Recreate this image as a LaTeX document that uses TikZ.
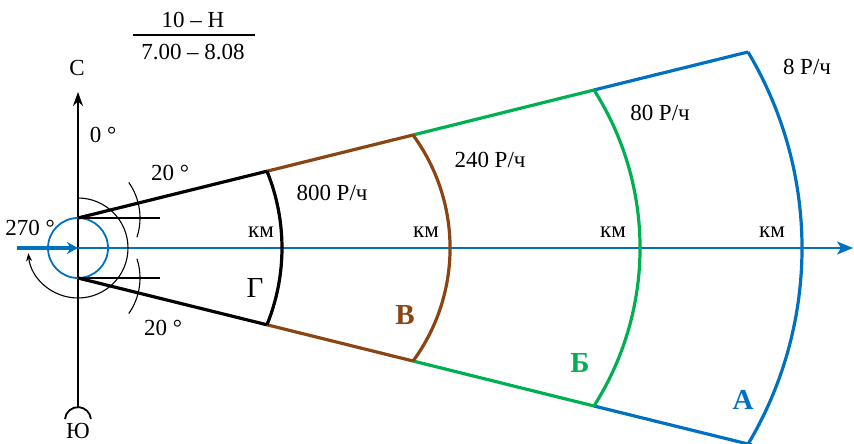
\documentclass[tikz,border=0pt]{standalone}
\usepackage{fontspec}
\setmainfont{Liberation Serif}
\usetikzlibrary{arrows.meta, calc}

\definecolor{zoneA}{RGB}{0,112,192}
\definecolor{zoneB}{RGB}{0,176,80}
\definecolor{zoneV}{RGB}{139,69,19}

\begin{document}
\begin{tikzpicture}[x=1pt, y=1pt,
    lbl/.style={font=\fontsize{23}{27}\selectfont, inner sep=0pt},
    zonelbl/.style={font=\fontsize{29}{33}\selectfont\bfseries, inner sep=0pt},
    zone/.style={line width=3.2pt},
    axis/.style={line width=1.8pt},
    hairline/.style={line width=1.1pt}
]
\useasboundingbox (-78,-196) rectangle (776,248);

% Points of the sector
\coordinate (O) at (0,0);
\coordinate (up) at (0,30);
\coordinate (lo) at (0,-30);
\coordinate (g1) at (189,76.8);  \coordinate (g2) at (189,-76.8);
\coordinate (v1) at (335,113);   \coordinate (v2) at (335,-113);
\coordinate (b1) at (516,158);   \coordinate (b2) at (516,-158);
\coordinate (a1) at (670,196);   \coordinate (a2) at (674,-197);

% Axes
\draw[axis, -{Stealth[length=14pt, width=10pt]}] (0,-159) -- (0,156);
\draw[axis] (-13,-171) arc[start angle=175, end angle=5, radius=13];
\draw[line width=1.4pt, zoneA, -{Stealth[length=16pt, width=13pt, inset=4pt]}] (O) -- (775,0);
\draw[line width=4pt, zoneA, -{Stealth[length=11pt, width=12pt]}] (-61,0) -- (O);
\draw[line width=1.8pt, zoneA] (O) circle[radius=30];

% Angles
\draw[hairline, -{Stealth[length=8pt, width=6pt]}] (0,50) arc[start angle=90, end angle=-174, radius=50];
\draw[hairline] (up) -- (82,30);
\draw[hairline] (lo) -- (82,-30);
\draw[hairline] ($(up)+(-18:62)$) arc[start angle=-18, end angle=35, radius=62];
\draw[hairline] ($(lo)+(-35:62)$) arc[start angle=-35, end angle=18, radius=62];

% Sector lines
\draw[zone] (up) -- (g1);
\draw[zone] (lo) -- (g2);
\draw[zone, zoneV] (g1) -- (v1);
\draw[zone, zoneV] (g2) -- (v2);
\draw[zone, zoneB] (v1) -- (b1);
\draw[zone, zoneB] (v2) -- (b2);
\draw[zone, zoneA] (b1) -- (a1);
\draw[zone, zoneA] (b2) -- (a2);

% Zone borders
\draw[zone] (g1) arc[start angle=22.1, end angle=-22.1, radius=204];
\draw[zone, zoneV] (v1) arc[start angle=36.3, end angle=-36.3, radius=191];
\draw[zone, zoneB] (b1) arc[start angle=32.5, end angle=-32.5, radius=294];
\draw[zone, zoneA] (a1) arc[start angle=30.8, end angle=-30.8, radius=383];

% Title
\node[lbl] (wind) at (115,228) {10 – Н};
\node[lbl] (time) at (115,196) {7.00 – 8.08};
\draw[hairline] (55,213) -- (177,213);

% Labels
\node[lbl] (north) at (-1,180) {С};
\node[lbl] (south) at (0,-183) {Ю};
\node[lbl] (a0) at (25,113) {0 °};
\node[lbl] (a270) at (-48,20) {270 °};
\node[lbl] (a20up) at (92,75) {20 °};
\node[lbl] (a20lo) at (85,-80) {20 °};
\node[lbl] (r800) at (254,55) {800 Р/ч};
\node[lbl] (r240) at (412,88) {240 Р/ч};
\node[lbl] (r80) at (582,135) {80 Р/ч};
\node[lbl] (r8) at (729,181) {8 Р/ч};
\node[lbl] (km1) at (183,16) {км};
\node[lbl] (km2) at (348,16) {км};
\node[lbl] (km3) at (535,16) {км};
\node[lbl] (km4) at (694,16) {км};
\node[font=\fontsize{29}{33}\selectfont, inner sep=0pt] (zG) at (177,-40) {Г};
\node[zonelbl, zoneV] (zV) at (327,-67) {В};
\node[zonelbl, zoneB] (zB) at (502,-115) {Б};
\node[zonelbl, zoneA] (zA) at (665,-152) {А};

\end{tikzpicture}
\end{document}
